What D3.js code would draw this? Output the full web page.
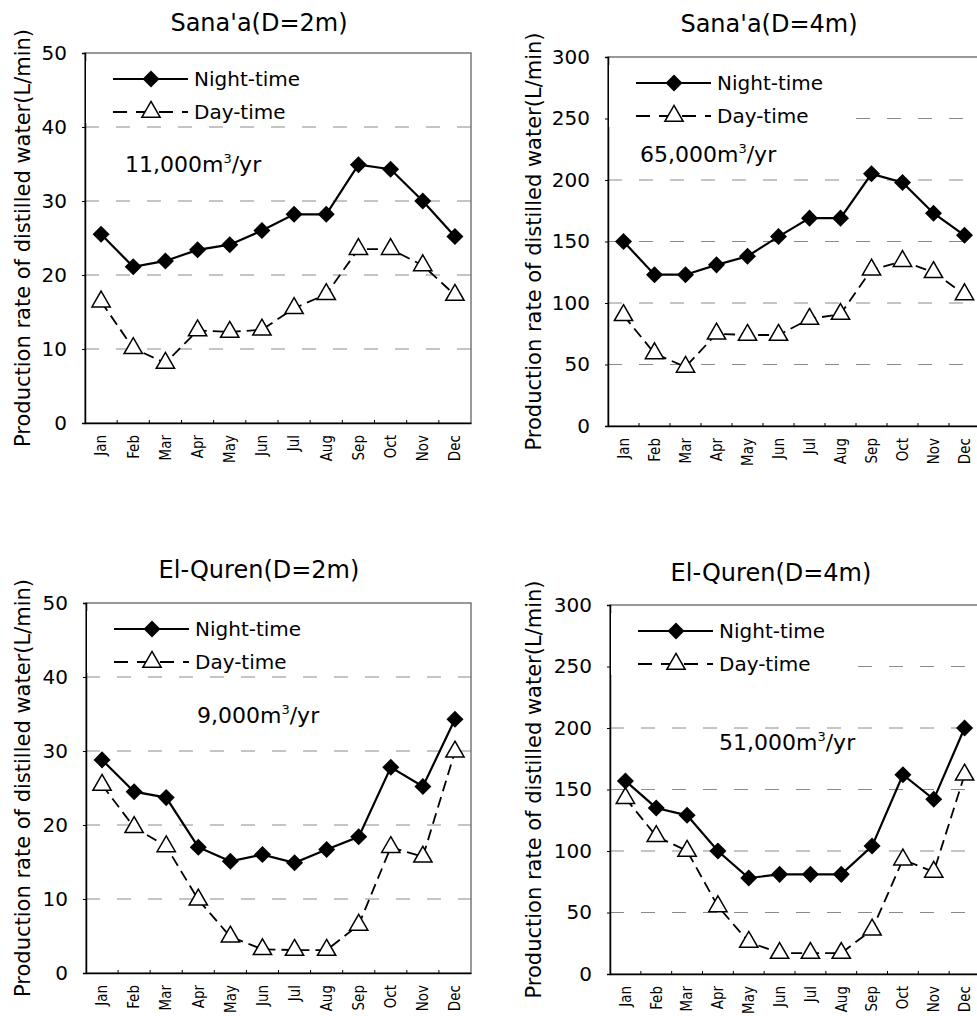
<!DOCTYPE html>
<html>
<head>
<meta charset="utf-8">
<script src="https://cdn.jsdelivr.net/npm/d3@7"></script>
<style>
	body { margin: 0; background: #fff; }
	svg { display: block; font-family: "DejaVu Sans", Verdana, sans-serif; }
</style>
</head>
<body>
<div id="chart-container"></div>
<script>

var months = ["Jan", "Feb", "Mar", "Apr", "May", "Jun", "Jul", "Aug", "Sep", "Oct", "Nov", "Dec"];

var ticks_2m = [0, 10, 20, 30, 40, 50];
var ticks_4m = [0, 50, 100, 150, 200, 250, 300];

var sanaa_2m_night = [25.5, 21.1, 21.9, 23.4, 24.1, 26.0, 28.2, 28.2, 34.9, 34.3, 30.0, 25.2];
var sanaa_2m_day = [16.4, 10.1, 8.1, 12.5, 12.3, 12.6, 15.5, 17.4, 23.5, 23.5, 21.3, 17.3];

var sanaa_4m_night = [150, 123, 123, 131, 138, 154, 169, 169, 205, 198, 173, 155];
var sanaa_4m_day = [90, 59, 48, 75, 74, 74, 87, 91, 127, 134, 125, 107];

var quren_2m_night = [28.8, 24.5, 23.7, 17.0, 15.1, 16.0, 14.9, 16.7, 18.4, 27.8, 25.2, 34.3];
var quren_2m_day = [25.4, 19.7, 17.1, 9.9, 4.9, 3.2, 3.1, 3.1, 6.5, 17.0, 15.7, 29.9];

var quren_4m_night = [157, 135, 129, 100, 78, 81, 81, 81, 104, 162, 142, 200];
var quren_4m_day = [143, 112, 100, 55, 26, 17, 17, 17, 36, 93, 83, 162];

var titles = ["Sana'a(D=2m)", "Sana'a(D=4m)", "El-Quren(D=2m)", "El-Quren(D=4m)"];
var totals = ["11,000", "65,000", "9,000", "51,000"];

var y_label = "Production rate of distilled water(L/min)";
var legend_names = ["Night-time", "Day-time"];

var panels = [
	{ night: sanaa_2m_night, day: sanaa_2m_day, ticks: ticks_2m, left: 85, right: 471, top: 53, bottom: 423,
	  title_x: 259, title_y: 31, label_x: 30, note_x: 125, note_y: 172 },
	{ night: sanaa_4m_night, day: sanaa_4m_day, ticks: ticks_4m, left: 608, right: 980, top: 57, bottom: 426,
	  title_x: 769, title_y: 32, label_x: 541, note_x: 640, note_y: 162 },
	{ night: quren_2m_night, day: quren_2m_day, ticks: ticks_2m, left: 86, right: 471, top: 603, bottom: 973,
	  title_x: 259, title_y: 578, label_x: 30, note_x: 197, note_y: 723 },
	{ night: quren_4m_night, day: quren_4m_day, ticks: ticks_4m, left: 610, right: 980, top: 605, bottom: 974,
	  title_x: 771, title_y: 581, label_x: 541, note_x: 719, note_y: 750 }
];

var svg = d3.select("#chart-container").append("svg")
			.attr("width", 977)
			.attr("height", 1016);

panels.forEach(function(p, i) {
	draw_panel(p, titles[i], totals[i]);
});

function draw_panel(p, title, total) {
	var x = d3.scaleBand().domain(months).range([p.left, p.right]);
	var y = d3.scaleLinear().domain([0, d3.max(p.ticks)]).range([p.bottom, p.top]);
	var g = svg.append("g");

	// dashed grid lines
	g.selectAll(".grid")
		.data(p.ticks.slice(1, -1))
		.enter().append("line")
			.attr("x1", p.left).attr("x2", p.right)
			.attr("y1", function(d) { return y(d); })
			.attr("y2", function(d) { return y(d); })
			.attr("stroke", "#8a8a8a")
			.attr("stroke-width", 1)
			.attr("stroke-dasharray", "14,17");

	// frame
	g.append("rect")
		.attr("x", p.left).attr("y", p.top)
		.attr("width", p.right - p.left).attr("height", p.bottom - p.top)
		.attr("fill", "none")
		.attr("stroke", "#555")
		.attr("stroke-width", 1.2);

	// y axis
	var y_axis = g.append("g")
		.attr("transform", "translate(" + p.left + ",0)")
		.call(d3.axisLeft(y).tickValues(p.ticks).tickSize(3).tickPadding(15));
	y_axis.select(".domain").attr("stroke", "#000").attr("stroke-width", 1.5);
	y_axis.selectAll("text")
		.attr("font-size", 20)
		.attr("font-family", "DejaVu Sans")
		.attr("fill", "#000");

	// x axis, labels at band centres, ticks at band edges
	var x_axis = g.append("g")
		.attr("transform", "translate(0," + p.bottom + ")")
		.call(d3.axisBottom(x).tickSize(0));
	x_axis.select(".domain").attr("stroke", "#000").attr("stroke-width", 1.5);
	x_axis.selectAll("text")
		.attr("transform", "rotate(-90)")
		.attr("x", -12).attr("y", 0).attr("dy", "0.35em")
		.attr("text-anchor", "end")
		.attr("font-size", 15)
		.attr("font-family", "DejaVu Sans Condensed")
		.attr("fill", "#000");
	g.selectAll(".xtick")
		.data(months.slice(1))
		.enter().append("line")
			.attr("x1", function(d) { return x(d); })
			.attr("x2", function(d) { return x(d); })
			.attr("y1", p.bottom).attr("y2", p.bottom - 3)
			.attr("stroke", "#000");

	// y axis title
	g.append("text")
		.attr("transform", "translate(" + p.label_x + "," + (p.top + p.bottom) / 2 + ") rotate(-90)")
		.attr("text-anchor", "middle")
		.attr("font-size", 21)
		.text(y_label);

	// chart title
	g.append("text")
		.attr("x", p.title_x).attr("y", p.title_y)
		.attr("text-anchor", "middle")
		.attr("font-size", 24)
		.text(title);

	var cx = function(d, k) { return x(months[k]) + x.bandwidth() / 2; };

	// series lines
	g.append("path")
		.datum(p.day)
		.attr("fill", "none")
		.attr("stroke", "#000")
		.attr("stroke-width", 1.8)
		.attr("stroke-dasharray", "11,6")
		.attr("d", d3.line().x(cx).y(function(d) { return y(d); }));
	g.append("path")
		.datum(p.night)
		.attr("fill", "none")
		.attr("stroke", "#000")
		.attr("stroke-width", 2.2)
		.attr("d", d3.line().x(cx).y(function(d) { return y(d); }));

	var diamond = d3.symbol().type(d3.symbolSquare).size(145);
	var triangle = d3.symbol().type(d3.symbolTriangle).size(145);

	g.selectAll(".day-pt")
		.data(p.day)
		.enter().append("path")
			.attr("d", triangle)
			.attr("transform", function(d, k) { return "translate(" + cx(d, k) + "," + y(d) + ")"; })
			.attr("fill", "#fff")
			.attr("stroke", "#000")
			.attr("stroke-width", 1.5);
	g.selectAll(".night-pt")
		.data(p.night)
		.enter().append("path")
			.attr("d", diamond)
			.attr("transform", function(d, k) { return "translate(" + cx(d, k) + "," + y(d) + ") rotate(45)"; })
			.attr("fill", "#000");

	// legend with white box hiding the grid behind it
	var lx = p.left, ly = p.top;
	g.append("rect")
		.attr("x", lx + 1).attr("y", ly + 8)
		.attr("width", 244).attr("height", 62)
		.attr("fill", "#fff");

	g.append("line")
		.attr("x1", lx + 28).attr("x2", lx + 103)
		.attr("y1", ly + 26).attr("y2", ly + 26)
		.attr("stroke", "#000").attr("stroke-width", 2.2);
	g.append("path")
		.attr("d", diamond)
		.attr("transform", "translate(" + (lx + 66) + "," + (ly + 26) + ") rotate(45)")
		.attr("fill", "#000");
	g.append("line")
		.attr("x1", lx + 28).attr("x2", lx + 103)
		.attr("y1", ly + 59).attr("y2", ly + 59)
		.attr("stroke", "#000").attr("stroke-width", 1.8)
		.attr("stroke-dasharray", "14,9");
	g.append("path")
		.attr("d", triangle)
		.attr("transform", "translate(" + (lx + 66) + "," + (ly + 59) + ")")
		.attr("fill", "#fff").attr("stroke", "#000").attr("stroke-width", 1.5);

	g.selectAll(".legend-text")
		.data(legend_names)
		.enter().append("text")
			.attr("x", lx + 109)
			.attr("y", function(d, k) { return ly + 26 + k * 33; })
			.attr("dy", "0.35em")
			.attr("font-size", 20)
			.text(function(d) { return d; });

	// yearly total
	var note = g.append("text")
		.attr("x", p.note_x).attr("y", p.note_y)
		.attr("font-size", 22);
	note.append("tspan").text(total + "m");
	note.append("tspan").attr("dy", -9).attr("font-size", 13).text("3");
	note.append("tspan").attr("dy", 9).text("/yr");
}

</script>
</body>
</html>
